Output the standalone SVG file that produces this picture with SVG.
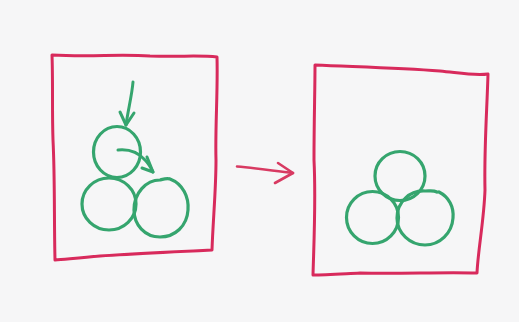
<svg xmlns="http://www.w3.org/2000/svg" width="519" height="322" viewBox="0 0 519 322">
<style>
.frame{fill:none;stroke:#d82a5c;stroke-width:3;stroke-linecap:round;stroke-linejoin:round}
.ball{fill:none;stroke:#35a56e;stroke-width:3.2;stroke-linecap:round;stroke-linejoin:round}
.move{fill:none;stroke:#35a56e;stroke-width:3;stroke-linecap:round;stroke-linejoin:round}
.conn{fill:none;stroke:#d83a62;stroke-width:2.6;stroke-linecap:round;stroke-linejoin:round}
</style>
<rect x="0" y="0" width="519" height="322" fill="#f6f6f7"/>
<g id="before">
  <path class="frame" d="M52,55 C90,57 120,54 150,56 C180,57 200,55 217,57 C218,90 215,130 216,160 C216,190 213,220 212,250 C170,252 130,254 100,256 C80,258 65,259 55,260 C54,220 55,180 53,140 C52,110 53,80 52,55 Z"/>
  <g id="before-ball-top"><ellipse class="ball" cx="117" cy="152" rx="23.5" ry="25.5"/></g>
  <g id="before-ball-left"><ellipse class="ball" cx="109" cy="204" rx="27" ry="26"/></g>
  <g id="before-ball-right"><path class="ball" d="M170,179 C183,184 189,197 188,210 C187,226 175,237 160,237 C145,237 134,225 134,210 C134,193 146,180 160,180 C164,179 167,178 170,179"/></g>
</g>
<g id="after">
  <path class="frame" d="M315,65 C360,67 400,68 440,71 C460,73 475,76 488,74 C487,110 484,150 485,190 C484,220 478,250 477,273 C440,272 400,274 360,273 C340,274 325,275 313,275 C314,240 316,200 314,160 C314,120 315,90 315,65 Z"/>
  <g id="after-ball-top"><ellipse class="ball" cx="400" cy="176" rx="25" ry="24.5"/></g>
  <g id="after-ball-left"><ellipse class="ball" cx="372.5" cy="217.5" rx="26" ry="26"/></g>
  <g id="after-ball-right"><path class="ball" d="M439,192 C449,197 454,207 453,218 C452,233 440,245 425,245 C410,245 397,233 397,218 C397,202 410,190 425,191 C430,191 433,190 437,192"/></g>
</g>
<g id="connectors">
  <path class="move" d="M133,82 C132,95 128,110 126,125"/>
  <path class="move" d="M120,112 L126,125 L134,113"/>
  <path class="move" d="M118,150 C128,149 138,152 145,160 C149,164 151,168 153,172"/>
  <path class="move" d="M147,157 L153,172 L142,168"/>
  <path class="conn" d="M237,166.5 C255,168 275,171 293,173"/>
  <path class="conn" d="M278,163 L293,173 L275,183"/>
</g>
</svg>
